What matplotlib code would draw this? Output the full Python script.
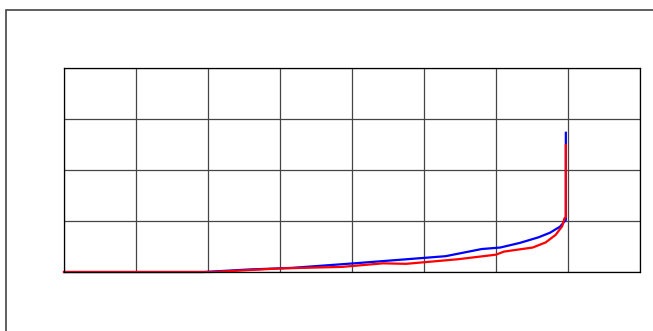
import matplotlib
matplotlib.use("Agg")
import matplotlib.pyplot as plt
from matplotlib.patches import Rectangle

blue_x = [0, 1.94, 2.58, 3.16, 4.03, 4.94, 5.3, 5.8, 6.06, 6.33, 6.59, 6.75, 6.89, 6.97, 6.97]
blue_y = [0, 0, 0.05, 0.08, 0.17, 0.27, 0.31, 0.45, 0.48, 0.57, 0.68, 0.77, 0.89, 1.02, 2.73]

red_x = [0, 2.06, 3.0, 3.86, 4.43, 4.75, 5.47, 6.0, 6.11, 6.51, 6.69, 6.83, 6.92, 6.95, 6.97, 6.97]
red_y = [0, 0, 0.07, 0.10, 0.17, 0.16, 0.25, 0.34, 0.40, 0.48, 0.58, 0.73, 0.90, 1.05, 1.08, 2.49]

x_ticks = list(range(0, 9))
y_ticks = list(range(0, 5))

fig = plt.figure(figsize=(6.53, 3.31), dpi=100)
fig.patches.append(Rectangle((6 / 653, -0.1), 1.2, (331 - 10) / 331 + 0.1,
                             transform=fig.transFigure, fill=False,
                             edgecolor="#444444", linewidth=1.2))
ax = fig.add_axes([64 / 653, (331 - 272) / 331, (640 - 64) / 653, (272 - 68) / 331])
ax.set_xlim(0, 8)
ax.set_ylim(0, 4)
ax.set_xticks(x_ticks)
ax.set_yticks(y_ticks)
ax.tick_params(length=0, labelbottom=False, labelleft=False)
ax.grid(True, color="#444444", linewidth=0.9)
ax.set_axisbelow(True)
for s in ax.spines.values():
    s.set_color("black")
    s.set_linewidth(0.9)

ax.plot(blue_x, blue_y, color="blue", linewidth=1.6, clip_on=False)
ax.plot(red_x, red_y, color="red", linewidth=1.6, clip_on=False)

fig.savefig("out.png", dpi=100)
